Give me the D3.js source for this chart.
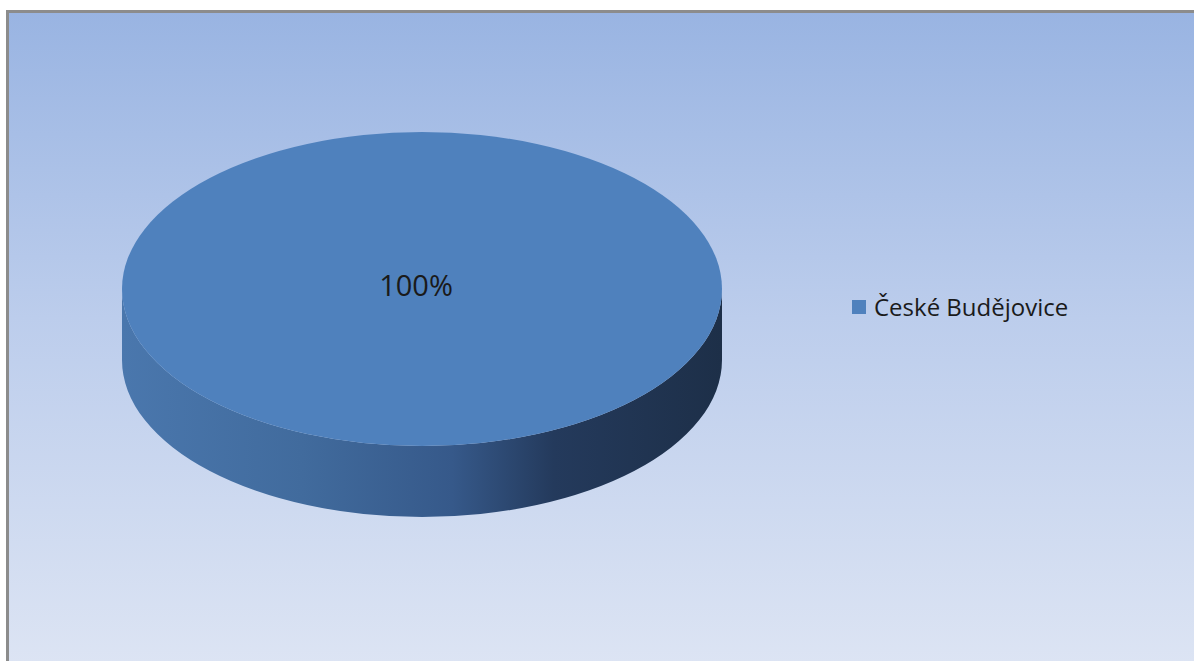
<!DOCTYPE html>
<html>
<head>
<meta charset="utf-8">
<script src="https://cdn.jsdelivr.net/npm/d3@7"></script>
<style>
  html, body { margin: 0; padding: 0; background: #fff; }
  svg { display: block; }
</style>
</head>
<body>
<svg width="1194" height="661"></svg>
<script>
const categories = ["České Budějovice"];
const values = [100];
const colors = ["#4f81bd"];

function drawChart() {
  const svg = d3.select("svg");
  const width = +svg.attr("width");
  const height = +svg.attr("height");

  const cx = 422, cy = 289, rx = 300, ry = 157, depth = 71;

  const defs = svg.append("defs");
  const bg = defs.append("linearGradient")
    .attr("id", "bg").attr("x1", 0).attr("y1", 0).attr("x2", 0).attr("y2", 1);
  bg.append("stop").attr("offset", 0).attr("stop-color", "#99b4e2");
  bg.append("stop").attr("offset", 0.45).attr("stop-color", "#bccdec");
  bg.append("stop").attr("offset", 1).attr("stop-color", "#dfe6f4");

  const side = defs.append("linearGradient")
    .attr("id", "side").attr("gradientUnits", "userSpaceOnUse")
    .attr("x1", cx - rx).attr("y1", 0).attr("x2", cx + rx).attr("y2", 0);
  side.append("stop").attr("offset", 0).attr("stop-color", "#4a77ad");
  side.append("stop").attr("offset", 0.3).attr("stop-color", "#416b9d");
  side.append("stop").attr("offset", 0.55).attr("stop-color", "#36598a");
  side.append("stop").attr("offset", 0.72).attr("stop-color", "#243a5c");
  side.append("stop").attr("offset", 1).attr("stop-color", "#1d2f48");

  // background + frame (right and bottom run off the page)
  svg.append("rect")
    .attr("x", 7.5).attr("y", 11.5)
    .attr("width", width + 20).attr("height", height + 20)
    .attr("fill", "url(#bg)")
    .attr("stroke", "#8c8c8c")
    .attr("stroke-width", 3);

  const pie = d3.pie().sort(null);
  const arcs = pie(values);

  const px = a => cx + rx * Math.sin(a);
  const py = (a, dy) => cy - ry * Math.cos(a) + dy;

  // side walls (front half only)
  arcs.forEach((d, i) => {
    const a0 = Math.max(d.startAngle, Math.PI / 2);
    const a1 = Math.min(d.endAngle, 3 * Math.PI / 2);
    if (a1 <= a0) return;
    const large = (a1 - a0) > Math.PI ? 1 : 0;
    const path =
      `M${px(a0)},${py(a0, 0)}` +
      `A${rx},${ry} 0 ${large} 1 ${px(a1)},${py(a1, 0)}` +
      `L${px(a1)},${py(a1, depth)}` +
      `A${rx},${ry} 0 ${large} 0 ${px(a0)},${py(a0, depth)}Z`;
    svg.append("path")
      .attr("d", path)
      .attr("fill", "url(#side)");
  });

  // top face
  const arc = d3.arc().innerRadius(0).outerRadius(rx);
  const top = svg.append("g")
    .attr("transform", `translate(${cx},${cy}) scale(1,${ry / rx})`);
  top.selectAll("path")
    .data(arcs)
    .join("path")
    .attr("d", d => d.endAngle - d.startAngle >= 2 * Math.PI - 1e-6
      ? `M${-rx},0A${rx},${rx} 0 1 1 ${rx},0A${rx},${rx} 0 1 1 ${-rx},0Z`
      : arc(d))
    .attr("fill", (d, i) => colors[i]);

  // data labels
  const total = d3.sum(values);
  const full = d => d.endAngle - d.startAngle >= 2 * Math.PI - 1e-6;
  svg.selectAll(".lbl")
    .data(arcs)
    .join("text")
    .attr("class", "lbl")
    .attr("x", d => full(d) ? cx - 6 : cx + rx * 0.6 * Math.sin((d.startAngle + d.endAngle) / 2))
    .attr("y", d => full(d) ? cy + 7 : cy - ry * 0.6 * Math.cos((d.startAngle + d.endAngle) / 2) + 7)
    .attr("text-anchor", "middle")
    .attr("font-family", "Open Sans, sans-serif")
    .attr("font-size", 29)
    .attr("fill", "#1a1a1a")
    .text(d => Math.round(d.data / total * 100) + "%");

  // legend
  const legend = svg.append("g").attr("transform", "translate(852,300)");
  const items = legend.selectAll("g")
    .data(categories)
    .join("g")
    .attr("transform", (d, i) => `translate(0,${i * 30})`);
  items.append("rect")
    .attr("width", 14).attr("height", 14)
    .attr("fill", (d, i) => colors[i]);
  items.append("text")
    .attr("x", 22).attr("y", 16)
    .attr("font-family", "Open Sans, sans-serif")
    .attr("font-size", 24)
    .attr("fill", "#1a1a1a")
    .text(d => d);
}

window.onload = drawChart;
</script>
</body>
</html>
